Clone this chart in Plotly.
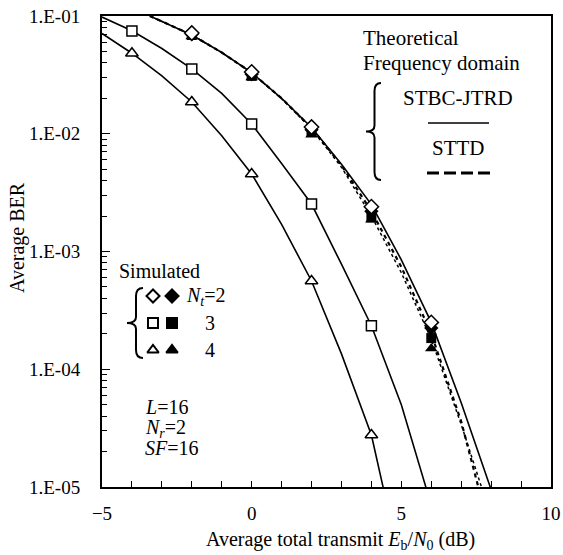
import plotly.graph_objects as go

# ---------------- data ----------------
# simulated points
x_nt2_sim = [-2, 0, 2, 4, 6]
ber_nt2_open = [0.0716, 0.0335, 0.0114, 0.0024, 0.00025]
ber_nt2_fill = [0.0700, 0.0320, 0.0108, 0.0022, 0.000224]
x_nt3_sim = [-4, -2, 0, 2, 4]
ber_nt3_open = [0.0746, 0.0355, 0.0121, 0.00253, 0.000234]
x_nt4_sim = [-4, -2, 0, 2, 4]
ber_nt4_open = [0.0483, 0.0186, 0.00455, 0.000562, 2.76e-5]
x_fill = [-2, 0, 2, 4, 6]
ber_nt3_fill = [0.069, 0.031, 0.0104, 0.00195, 0.000184]
ber_nt4_fill = [0.067, 0.030, 0.0098, 0.00186, 0.00015]

# theoretical curves
x_jtrd2 = [-3.4, -3, -2, -1, 0, 1, 2, 3, 4, 5, 6, 7, 8]
ber_jtrd2 = [0.1, 0.09, 0.069, 0.049, 0.033, 0.020, 0.0113, 0.0055, 0.0025,
             0.00085, 0.00025, 5.2e-5, 9.5e-6]
x_jtrd3 = [-5, -4, -3, -2, -1, 0, 1, 2, 3, 4, 5, 6]
ber_jtrd3 = [0.098, 0.075, 0.053, 0.0355, 0.022, 0.0121, 0.0056, 0.00253,
             0.00078, 0.000234, 5.0e-5, 7.0e-6]
x_jtrd4 = [-5, -4, -3, -2, -1, 0, 1, 2, 3, 4, 4.5]
ber_jtrd4 = [0.071, 0.0483, 0.031, 0.0186, 0.0096, 0.00455, 0.0017, 0.000562,
             0.000135, 2.76e-5, 7.5e-6]
x_sttd = [-3.4, -3, -2, -1, 0, 1, 2, 3, 4, 5, 6, 7, 7.55, 7.7]
ber_sttd = [0.1, 0.09, 0.069, 0.049, 0.033, 0.020, 0.0112, 0.0054, 0.0022,
            0.00074, 0.0002, 3.6e-5, 1e-5, 7.5e-6]
x_dot = [-3.4, -3, -2, -1, 0, 1, 2, 3, 4, 5, 6, 7, 7.66, 7.8]
ber_dot = [0.1, 0.09, 0.069, 0.049, 0.033, 0.0198, 0.011, 0.0052, 0.0020,
           0.00066, 0.00018, 3.4e-5, 1e-5, 8e-6]

x_ticks = [-5, 0, 5, 10]
y_ticks = [1e-5, 1e-4, 1e-3, 1e-2, 1e-1]
y_ticktext = ["1.E-05", "1.E-04", "1.E-03", "1.E-02", "1.E-01"]

FONT = "Liberation Serif, Times New Roman, Times, serif"
BLACK = "#000000"

fig = go.Figure()

# theoretical lines
fig.add_trace(go.Scatter(x=x_dot, y=ber_dot, mode="lines",
                         line=dict(color=BLACK, width=1.5, dash="dot")))
fig.add_trace(go.Scatter(x=x_sttd, y=ber_sttd, mode="lines",
                         line=dict(color=BLACK, width=2.2, dash="4px,4px")))
for xs, ys in [(x_jtrd2, ber_jtrd2), (x_jtrd3, ber_jtrd3), (x_jtrd4, ber_jtrd4)]:
    fig.add_trace(go.Scatter(x=xs, y=ys, mode="lines",
                             line=dict(color=BLACK, width=1.6)))

# filled markers
fig.add_trace(go.Scatter(x=x_fill, y=ber_nt4_fill, mode="markers",
                         marker=dict(symbol="triangle-up", size=11, color=BLACK)))
fig.add_trace(go.Scatter(x=x_fill, y=ber_nt3_fill, mode="markers",
                         marker=dict(symbol="square", size=10, color=BLACK)))
fig.add_trace(go.Scatter(x=x_nt2_sim, y=ber_nt2_fill, mode="markers",
                         marker=dict(symbol="diamond", size=11, color=BLACK)))
# open markers (white fill)
fig.add_trace(go.Scatter(x=x_nt2_sim, y=ber_nt2_open, mode="markers",
                         marker=dict(symbol="diamond", size=11, color="white",
                                     line=dict(color=BLACK, width=1.5))))
fig.add_trace(go.Scatter(x=x_nt3_sim, y=ber_nt3_open, mode="markers",
                         marker=dict(symbol="square", size=10, color="white",
                                     line=dict(color=BLACK, width=1.5))))
fig.add_trace(go.Scatter(x=x_nt4_sim, y=ber_nt4_open, mode="markers",
                         marker=dict(symbol="triangle-up", size=11, color="white",
                                     line=dict(color=BLACK, width=1.5))))

# ---- legend glyphs in a pixel-unit overlay axis (x2/y2) ----
leg_x = [153, 172, 153, 172, 153, 172]
leg_y = [296, 296, 323, 323, 350, 350]
leg_sym = ["diamond", "diamond", "square", "square", "triangle-up", "triangle-up"]
leg_fill = ["white", BLACK, "white", BLACK, "white", BLACK]
fig.add_trace(go.Scatter(x=leg_x, y=leg_y, mode="markers", xaxis="x2", yaxis="y2",
                         marker=dict(symbol=leg_sym, size=10, color=leg_fill,
                                     line=dict(color=BLACK, width=2))))

# plot area in screenshot pixels (page body margin is set to 0 below)
L, R, T, B = 102, 551, 16, 487
W, H = 563, 555

fig.update_layout(
    template="none",
    width=W, height=H,
    margin=dict(l=L, r=W - R, t=T, b=H - B, pad=0, autoexpand=False),
    paper_bgcolor="white", plot_bgcolor="white",
    showlegend=False,
    font=dict(family=FONT, size=18, color=BLACK),
    xaxis=dict(range=[-5, 10], tickmode="array", tickvals=x_ticks,
               ticks="inside", ticklen=6, tickwidth=1, tickcolor=BLACK,
               showline=True, linecolor=BLACK, linewidth=2, mirror=True,
               showgrid=False, zeroline=False, ticklabelstandoff=8,
               automargin=False,
               tickfont=dict(family=FONT, size=19),
               minor=dict(dtick=1, ticks="inside", ticklen=6, tickcolor=BLACK,
                          showgrid=False)),
    yaxis=dict(type="log", range=[-5, -1], tickmode="array", tickvals=y_ticks,
               ticktext=y_ticktext, ticks="inside", ticklen=8, tickcolor=BLACK,
               showline=True, linecolor=BLACK, linewidth=2, mirror=True,
               showgrid=False, zeroline=False, ticklabelstandoff=16,
               automargin=False,
               tickfont=dict(family=FONT, size=19),
               minor=dict(dtick="D1", ticks="inside", ticklen=5, tickcolor=BLACK,
                          showgrid=False)),
    xaxis2=dict(range=[L, R], overlaying="x", visible=False, fixedrange=True,
                automargin=False),
    yaxis2=dict(range=[B, T], overlaying="y", visible=False, fixedrange=True,
                automargin=False),
)


def brace(xr, yt, yb, xl):
    ym = (yt + yb) / 2
    xm = (xr + xl) / 2 + 1
    return (f"M {xr},{yt} Q {xm},{yt} {xm},{yt + 8} L {xm},{ym - 6} "
            f"Q {xm},{ym} {xl},{ym} Q {xm},{ym} {xm},{ym + 6} "
            f"L {xm},{yb - 8} Q {xm},{yb} {xr},{yb}")


shapes = [
    dict(type="path", xref="x2", yref="y2", path=brace(381, 83, 180, 366),
         line=dict(color=BLACK, width=2)),
    dict(type="path", xref="x2", yref="y2", path=brace(143, 288, 358, 127),
         line=dict(color=BLACK, width=2)),
    dict(type="line", xref="x2", yref="y2", x0=428, x1=489, y0=123, y1=123,
         line=dict(color=BLACK, width=1.6)),
    dict(type="line", xref="x2", yref="y2", x0=427, x1=490, y0=173, y1=173,
         line=dict(color=BLACK, width=3, dash="12px,5px")),
]
fig.update_layout(shapes=shapes)

ann = []


def txt(x, y, s, xa="left", size=20, angle=0):
    # x, y in screenshot pixels -> paper coordinates
    ann.append(dict(x=(x - L) / (R - L), y=(B - y) / (B - T),
                    xref="paper", yref="paper", text=s, showarrow=False,
                    xanchor=xa, yanchor="middle", textangle=angle,
                    font=dict(family=FONT, size=size, color=BLACK)))


txt(361, 38, "Theoretical", size=21)
txt(361, 63, "Frequency domain", size=21)
txt(458, 98, "STBC-JTRD", xa="center", size=21)
txt(458, 148, "STTD", xa="center", size=21)
txt(117, 271, "Simulated", size=20)
txt(184, 296, "<i>N</i><sub><i>t</i></sub>=2", size=20)
txt(203, 323, "3", size=20)
txt(203, 350, "4", size=20)
txt(143, 407, "<i>L</i>=16", size=20)
txt(143, 428, "<i>N</i><sub><i>r</i></sub>=2", size=20)
txt(143, 448, "<i>SF</i>=16", size=20)
# axis titles
txt(340, 540, "Average total transmit <i>E</i><sub>b</sub>/<i>N</i><sub>0</sub> (dB)",
    xa="center", size=20)
txt(17, 238, "Average BER", xa="center", size=20, angle=-90)
fig.update_layout(annotations=ann)

fig.write_html("out.html",
               config={"displayModeBar": False, "staticPlot": True},
               post_script="document.body.style.margin='0px';"
                           "document.body.style.overflow='hidden';")
